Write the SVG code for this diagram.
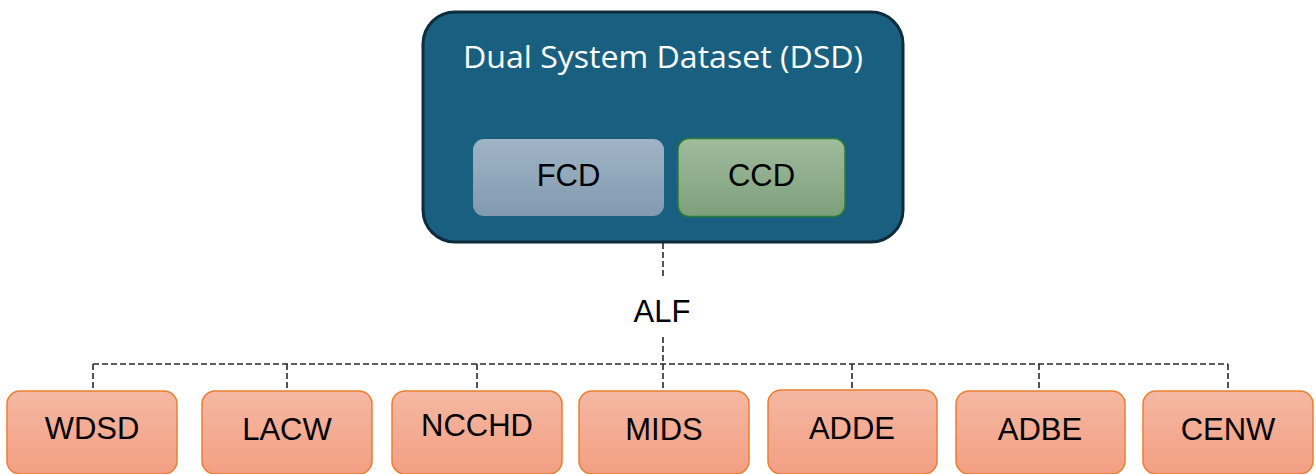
<svg xmlns="http://www.w3.org/2000/svg" width="1316" height="474" viewBox="0 0 1316 474">
<defs>
<linearGradient id="gOrange" x1="0" y1="0" x2="0" y2="1"><stop offset="0" stop-color="#f5b8a3"/><stop offset="1" stop-color="#f29f83"/></linearGradient>
<linearGradient id="gBlue" x1="0" y1="0" x2="0" y2="1"><stop offset="0" stop-color="#9fb5c6"/><stop offset="1" stop-color="#8299af"/></linearGradient>
<linearGradient id="gGreen" x1="0" y1="0" x2="0" y2="1"><stop offset="0" stop-color="#9fbc9d"/><stop offset="1" stop-color="#7e9f7b"/></linearGradient>
</defs>
<style>
.leaf{fill:url(#gOrange);stroke:#ed7d31;stroke-width:1.5}
.lbl{font-family:"Liberation Sans",Arial,sans-serif;font-size:31px;fill:#000;text-anchor:middle}
.conn{fill:none;stroke:#2a2a2a;stroke-width:1.6;stroke-dasharray:6 3}
</style>
<rect width="1316" height="474" fill="#fff"/>
<g id="connectors">
<path class="conn" d="M663 243V279"/>
<path class="conn" d="M663 337V364"/>
<path class="conn" d="M93 364H1228"/>
<path class="conn" d="M93 364V391M287 364V391M477 364V391M663 364V391M852 364V391M1039 364V391M1228 364V391"/>
</g>
<g id="dsd">
<rect x="423" y="12" width="480" height="230" rx="32" fill="#185f80" stroke="#0f2c3c" stroke-width="3"/>
<text x="663" y="68" font-family="'Open Sans',sans-serif" font-size="30.5" fill="#fff" text-anchor="middle" textLength="400" lengthAdjust="spacingAndGlyphs">Dual System Dataset (DSD)</text>
</g>
<g id="fcd">
<rect x="473" y="139" width="191" height="77" rx="11" fill="url(#gBlue)"/>
<text class="lbl" x="568.5" y="186" font-size="30">FCD</text>
</g>
<g id="ccd">
<rect x="678" y="138.5" width="167" height="78" rx="11" fill="url(#gGreen)" stroke="#2e7d32" stroke-width="1.5"/>
<text class="lbl" x="761.5" y="186" font-size="30">CCD</text>
</g>
<g id="alf">
<text class="lbl" x="662" y="322" font-size="30">ALF</text>
</g>
<g id="wdsd"><rect class="leaf" x="7" y="391" width="170" height="83" rx="13"/><text class="lbl" x="92" y="439">WDSD</text></g>
<g id="lacw"><rect class="leaf" x="202" y="391" width="170" height="83" rx="13"/><text class="lbl" x="287" y="440">LACW</text></g>
<g id="ncchd"><rect class="leaf" x="392" y="391" width="170" height="83" rx="13"/><text class="lbl" x="477" y="436" font-size="29">NCCHD</text></g>
<g id="mids"><rect class="leaf" x="579" y="391" width="170" height="83" rx="13"/><text class="lbl" x="664" y="440">MIDS</text></g>
<g id="adde"><rect class="leaf" x="768" y="390" width="169" height="84" rx="13"/><text class="lbl" x="852" y="439">ADDE</text></g>
<g id="adbe"><rect class="leaf" x="956" y="391" width="169" height="83" rx="13"/><text class="lbl" x="1040" y="440">ADBE</text></g>
<g id="cenw"><rect class="leaf" x="1143" y="391" width="170" height="83" rx="13"/><text class="lbl" x="1228" y="440">CENW</text></g>
</svg>
